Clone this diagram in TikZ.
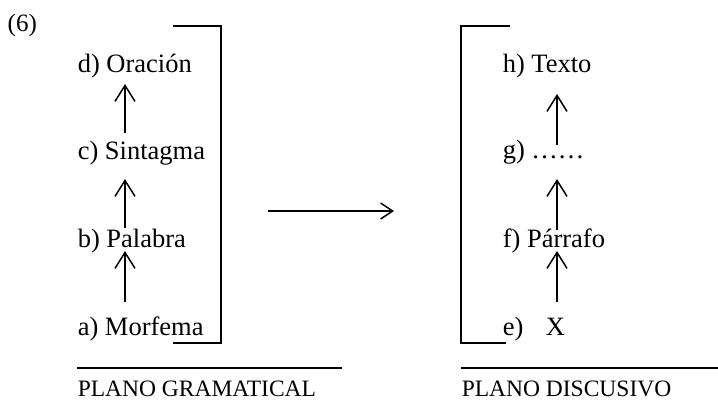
\documentclass[tikz,border=0pt]{standalone}
\usepackage{fontspec}
\setmainfont{Liberation Serif}
\usetikzlibrary{arrows.meta}
\begin{document}
\begin{tikzpicture}[x=1pt,y=-1pt,line width=1.5pt,
  lbl/.style={anchor=base west,inner sep=0pt,font=\fontsize{26.5}{30}\selectfont},
  plano/.style={anchor=base west,inner sep=0pt,font=\fontsize{23.5}{26}\selectfont},
  uparr/.style={-{Straight Barb[length=16pt,width=20pt]}},
  midarr/.style={-{Straight Barb[length=12pt,width=16pt]}}]
\useasboundingbox (0,0) rectangle (718,400);
% number
\node[anchor=base west,inner sep=0pt,font=\fontsize{25}{28}\selectfont] (num) at (7,31) {(6)};
% left column
\node[lbl] (d) at (77,72) {d) Oración};
\node[lbl] (c) at (77,159) {c) Sintagma};
\node[lbl] (b) at (77,247) {b) Palabra};
\node[lbl] (a) at (77,335) {a) Morfema};
\coordinate (l1s) at (125,133); \coordinate (l1e) at (125,84);
\coordinate (l2s) at (125,228); \coordinate (l2e) at (125,179);
\coordinate (l3s) at (125,302); \coordinate (l3e) at (125,251);
\draw[uparr] (l1s) -- (l1e);
\draw[uparr] (l2s) -- (l2e);
\draw[uparr] (l3s) -- (l3e);
% left bracket
\coordinate (lbt) at (173,26); \coordinate (lbtr) at (221,26);
\coordinate (lbbr) at (221,343); \coordinate (lbb) at (173,343);
\draw (lbt) -- (lbtr) -- (lbbr) -- (lbb);
% right column
\node[lbl] (h) at (502,72) {h) Texto};
\node[lbl] (g) at (502,158) {g) ……};
\node[lbl] (f) at (502,247) {f) Párrafo};
\node[lbl] (e) at (502,335) {e)\hspace{0.85em}X};
\coordinate (r1s) at (557,145); \coordinate (r1e) at (557,94);
\coordinate (r2s) at (557,230); \coordinate (r2e) at (557,179);
\coordinate (r3s) at (557,302); \coordinate (r3e) at (557,251);
\draw[uparr] (r1s) -- (r1e);
\draw[uparr] (r2s) -- (r2e);
\draw[uparr] (r3s) -- (r3e);
% right bracket
\coordinate (rbt) at (510,26); \coordinate (rbtl) at (461,26);
\coordinate (rbbl) at (461,343); \coordinate (rbb) at (506,343);
\draw (rbt) -- (rbtl) -- (rbbl) -- (rbb);
% middle arrow
\coordinate (ms) at (268,211); \coordinate (me) at (394,211);
\draw[midarr] (ms) -- (me);
% bottom lines and labels
\coordinate (bl1) at (77,368); \coordinate (bl2) at (342,368);
\draw[line width=1.3pt] (bl1) -- (bl2);
\coordinate (br1) at (461,368); \coordinate (br2) at (718,368);
\draw[line width=1.3pt] (br1) -- (br2);
\node[plano] (pg) at (77,396) {PLANO GRAMATICAL};
\node[plano] (pd) at (461,396) {PLANO DISCUSIVO};
\end{tikzpicture}
\end{document}
